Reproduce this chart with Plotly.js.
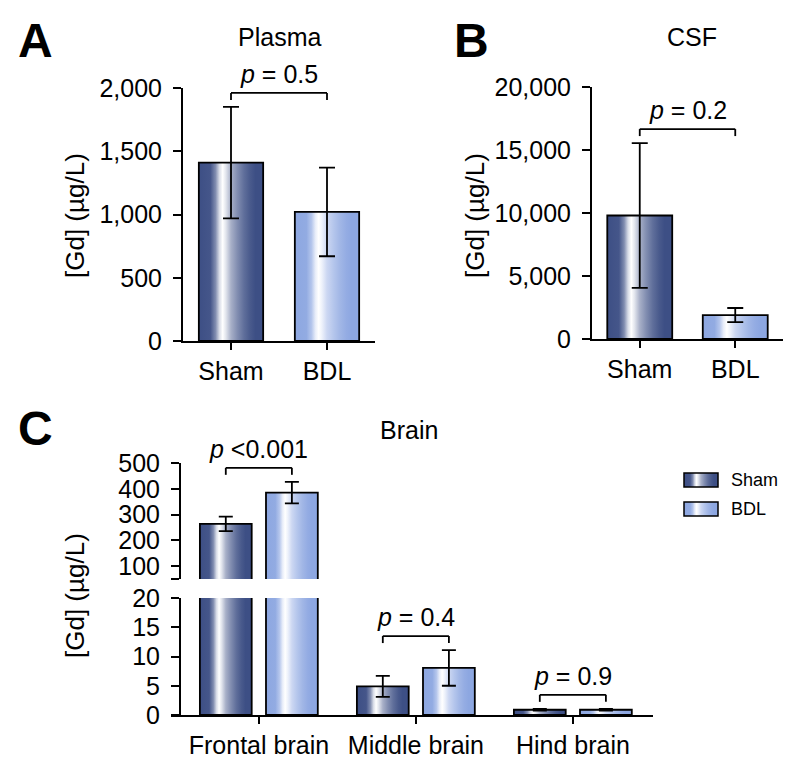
<!DOCTYPE html>
<html>
<head>
<meta charset="utf-8">
<script src="https://cdn.plot.ly/plotly-3.0.1.min.js"></script>
<style>
  html, body { margin: 0; padding: 0; background: #fff; }
  #chart { width: 800px; height: 769px; }
</style>
</head>
<body>
<svg width="0" height="0" style="position:absolute"><defs id="grads"></defs></svg>
<div id="chart"></div>
<script>
// ---- data ----
const groups = ['Sham', 'BDL'];

const plasmaMean = [1410, 1020];
const plasmaSD = [440, 350];
const plasmaP = '= 0.5';

const csfMean = [9800, 1900];
const csfSD = [5750, 560];
const csfP = '= 0.2';

const regions = ['Frontal brain', 'Middle brain', 'Hind brain'];
const brainShamMean = [264, 4.9, 0.9];
const brainShamSD = [28, 1.8, 0.15];
const brainBdlMean = [385, 8.05, 0.9];
const brainBdlSD = [42, 3.05, 0.15];
const brainP = ['<0.001', '= 0.4', '= 0.9'];

// ---- style ----
const FONT = 'Liberation Sans, Arial, Helvetica, sans-serif';
const W = 800, H = 769;
const fx = p => p / W;
const fy = p => 1 - p / H;
const SHAM_RGB = [61, 79, 133];
const BDL_RGB = [141, 167, 225];
const rgb = c => `rgb(${c[0]}, ${c[1]}, ${c[2]})`;
// white sheen across each bar (offset, amount of white)
const SHEEN = [[0, 0], [0.18, 0.04], [0.26, 0.35], [0.32, 0.8], [0.37, 1], [0.42, 0.85],
               [0.5, 0.55], [0.6, 0.35], [0.7, 0.18], [0.8, 0.06], [0.88, 0], [1, 0]];

function addGradient(id, base) {
  const ns = 'http://www.w3.org/2000/svg';
  const g = document.createElementNS(ns, 'linearGradient');
  g.setAttribute('id', id);
  g.setAttribute('x1', '0'); g.setAttribute('y1', '0');
  g.setAttribute('x2', '1'); g.setAttribute('y2', '0');
  SHEEN.forEach(([o, m]) => {
    const s = document.createElementNS(ns, 'stop');
    const c = base.map(v => Math.round(v + (255 - v) * m));
    s.setAttribute('offset', o);
    s.setAttribute('stop-color', rgb(c));
    g.appendChild(s);
  });
  document.getElementById('grads').appendChild(g);
}
addGradient('gradSham', SHAM_RGB);
addGradient('gradBdl', BDL_RGB);

const tickFont = { family: FONT, size: 25, color: 'black' };
const baseAxis = {
  showline: true, linecolor: 'black', linewidth: 2,
  ticks: 'outside', ticklen: 8, tickwidth: 2, tickcolor: 'black',
  showgrid: false, zeroline: false, tickfont: tickFont, fixedrange: true
};
const barLine = { color: 'black', width: 1.8 };
const errStyle = (arr, w) => ({ type: 'data', array: arr, visible: true, color: 'black', thickness: 1.8, width: w });

// ---- axes geometry (pixels) ----
const axA = { x: [183, 375], y: [88, 341], range: [0, 2000] };
const axB = { x: [592, 783], y: [87, 339], range: [0, 20000] };
const axCx = [171, 653];
const axCyAxis = 180;
const axClow = { y: [598, 715], range: [0, 20] };
const axCup = { y: [463, 579], range: [50, 500] };

const C_W = 0.33, C_OFF_SHAM = -0.376, C_OFF_BDL = 0.045;

const traces = [
  {
    type: 'bar', x: groups, y: plasmaMean, width: 0.67, xaxis: 'x', yaxis: 'y',
    marker: { color: [rgb(SHAM_RGB), rgb(BDL_RGB)], line: barLine },
    error_y: errStyle(plasmaSD, 8)
  },
  {
    type: 'bar', x: groups, y: csfMean, width: 0.68, xaxis: 'x2', yaxis: 'y2',
    marker: { color: [rgb(SHAM_RGB), rgb(BDL_RGB)], line: barLine },
    error_y: errStyle(csfSD, 8)
  }
];
['y3', 'y4'].forEach(ya => {
  traces.push({
    type: 'bar', x: regions, y: brainShamMean, width: C_W, offset: C_OFF_SHAM,
    xaxis: 'x3', yaxis: ya, name: groups[0],
    marker: { color: rgb(SHAM_RGB), line: barLine },
    error_y: errStyle(brainShamSD, 7)
  });
  traces.push({
    type: 'bar', x: regions, y: brainBdlMean, width: C_W, offset: C_OFF_BDL,
    xaxis: 'x3', yaxis: ya, name: groups[1],
    marker: { color: rgb(BDL_RGB), line: barLine },
    error_y: errStyle(brainBdlSD, 7)
  });
});

// ---- significance brackets ----
const shapes = [];
const annotations = [];
const BRACKET_PAD = 14, BRACKET_TIP = 7;

function bracket(xref, yref, ax, x0, x1, tops, label) {
  const h = ax.y[1] - ax.y[0];
  const level = Math.max(...tops) + BRACKET_PAD * (ax.range[1] - ax.range[0]) / h;
  const line = { color: 'black', width: 1.8 };
  shapes.push({ type: 'line', xref, yref, x0, x1, y0: level, y1: level, line });
  [x0, x1].forEach(xv => shapes.push({
    type: 'line', xref, yref, x0: xv, x1: xv, ysizemode: 'pixel', yanchor: level,
    y0: -BRACKET_TIP, y1: 0, line
  }));
  annotations.push({
    xref, yref, x: (x0 + x1) / 2, y: level, yanchor: 'bottom', yshift: 3,
    text: `<i>p</i> ${label}`, showarrow: false, font: { family: FONT, size: 25, color: 'black' }
  });
}
bracket('x', 'y', axA, 0, 1, plasmaMean.map((m, i) => m + plasmaSD[i]), plasmaP);
bracket('x2', 'y2', axB, 0, 1, csfMean.map((m, i) => m + csfSD[i]), csfP);
const shamC = C_OFF_SHAM + C_W / 2, bdlC = C_OFF_BDL + C_W / 2;
regions.forEach((r, i) => {
  const tops = [brainShamMean[i] + brainShamSD[i], brainBdlMean[i] + brainBdlSD[i]];
  const onUpper = Math.max(...tops) > axClow.range[1];
  bracket('x3', onUpper ? 'y4' : 'y3', onUpper ? axCup : axClow, i + shamC, i + bdlC, tops, brainP[i]);
});

// ---- titles, panel letters, y titles ----
const textAnn = (x, y, text, size, extra) => Object.assign({
  xref: 'paper', yref: 'paper', x: fx(x), y: fy(y), xanchor: 'center', yanchor: 'middle',
  text, showarrow: false, font: { family: FONT, size, color: 'black' }
}, extra || {});
annotations.push(
  textAnn(35, 40, '<b>A</b>', 48),
  textAnn(471, 40, '<b>B</b>', 48),
  textAnn(35, 429, '<b>C</b>', 48),
  textAnn(279, 37, 'Plasma', 25),
  textAnn(692, 37, 'CSF', 25),
  textAnn(409, 430, 'Brain', 25),
  textAnn(75, 216, '[Gd] (µg/L)', 26, { textangle: -90 }),
  textAnn(475, 216, '[Gd] (µg/L)', 26, { textangle: -90 }),
  textAnn(75, 596, '[Gd] (µg/L)', 26, { textangle: -90 })
);

// ---- legend for panel C ----
const legendRows = [[473, SHAM_RGB], [502, BDL_RGB]];
legendRows.forEach(([top, col], i) => {
  shapes.push({
    type: 'rect', xref: 'paper', yref: 'paper', x0: fx(684), x1: fx(718), y0: fy(top + 14), y1: fy(top),
    fillcolor: rgb(col), line: { color: 'black', width: 1.5 }
  });
  annotations.push(textAnn(729, top + 7, groups[i], 18, { xanchor: 'left' }));
});

const layout = {
  width: W, height: H,
  margin: { l: 0, r: 0, t: 0, b: 0 },
  paper_bgcolor: 'white', plot_bgcolor: 'rgba(0,0,0,0)',
  showlegend: false, barmode: 'overlay',
  font: { family: FONT, color: 'black' },
  xaxis: Object.assign({}, baseAxis, {
    domain: [fx(axA.x[0]), fx(axA.x[1])], range: [-0.5, 1.5], type: 'category', anchor: 'y', ticklen: 7
  }),
  yaxis: Object.assign({}, baseAxis, {
    domain: [fy(axA.y[1]), fy(axA.y[0])], range: axA.range, dtick: 500, tickformat: ',d',
    anchor: 'x', ticklabelstandoff: 6
  }),
  xaxis2: Object.assign({}, baseAxis, {
    domain: [fx(axB.x[0]), fx(axB.x[1])], range: [-0.5, 1.5], type: 'category', anchor: 'y2', ticklen: 7
  }),
  yaxis2: Object.assign({}, baseAxis, {
    domain: [fy(axB.y[1]), fy(axB.y[0])], range: axB.range, dtick: 5000, tickformat: ',d',
    anchor: 'x2', ticklabelstandoff: 6
  }),
  xaxis3: Object.assign({}, baseAxis, {
    domain: [fx(axCx[0]), fx(axCx[1])], range: [-0.56, 2.51], type: 'category', anchor: 'y3', ticklen: 7
  }),
  yaxis3: Object.assign({}, baseAxis, {
    domain: [fy(axClow.y[1]), fy(axClow.y[0])], range: axClow.range, dtick: 5,
    anchor: 'free', position: fx(axCyAxis), ticklabelstandoff: 6
  }),
  yaxis4: Object.assign({}, baseAxis, {
    domain: [fy(axCup.y[1]), fy(axCup.y[0])], range: axCup.range,
    tickvals: [50, 100, 200, 300, 400, 500], ticktext: ['', '100', '200', '300', '400', '500'],
    anchor: 'free', position: fx(axCyAxis), ticklabelstandoff: 6
  }),
  shapes, annotations
};

const gd = document.getElementById('chart');
Plotly.newPlot(gd, traces, layout, { staticPlot: true }).then(() => {
  // swap the flat fills for the horizontal sheen gradient
  gd.querySelectorAll('path').forEach(p => {
    if (p.style.fill === rgb(SHAM_RGB)) p.style.fill = 'url(#gradSham)';
    else if (p.style.fill === rgb(BDL_RGB)) p.style.fill = 'url(#gradBdl)';
  });
});
</script>
</body>
</html>
